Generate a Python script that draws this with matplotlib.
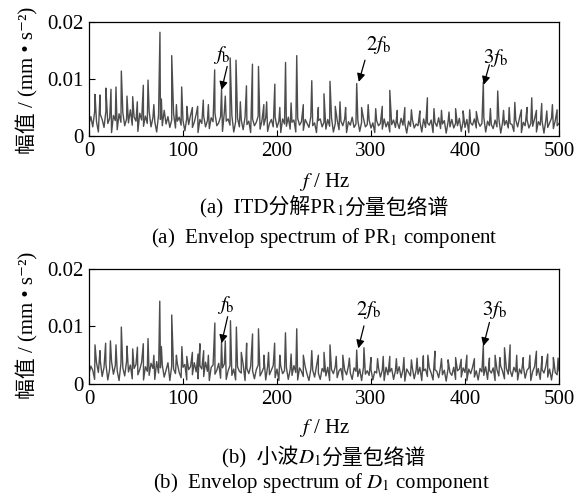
import numpy as np
import matplotlib
matplotlib.use("Agg")
import matplotlib.pyplot as plt

plt.rcParams['font.family'] = ['Liberation Serif', 'DejaVu Serif', 'Noto Sans CJK SC']
plt.rcParams['mathtext.fontset'] = 'stix'

#Frecuencias del fondo (cada 2 Hz) y amplitudes en 1e-3 mm/s^2
frec_fondo = np.arange(0, 501, 2)

fondo_a = [
    2.1, 3.4, 1.6, 4.2, 2.5, 0.7, 3.8, 2.9, 1.5, 4.4, 2.2, 3.1, 0.6, 3.6, 2.7, 1.1, 3.9, 2.4, 4.1, 1.8, 3.0, 2.3, 4.6, 1.9, 3.3,
    2.6, 0.8, 4.0, 2.8, 1.7, 3.5, 2.2, 4.3, 1.6, 3.2, 2.5, 0.7, 3.7, 2.9, 1.8, 4.5, 2.1, 3.4, 1.5, 2.8, 3.9, 1.4, 2.6, 3.3, 1.9,
    2.7, 0.9, 3.1, 2.0, 3.6, 1.5, 2.4, 3.8, 0.6, 2.9, 2.2, 3.5, 1.6, 2.7, 1.3, 3.2, 2.5, 4.0, 1.8, 2.3, 3.4, 0.8, 4.2, 2.6, 3.0,
    1.9, 3.6, 0.7, 2.5, 3.1, 1.6, 2.8, 1.1, 3.3, 2.0, 2.6, 0.6, 3.0, 1.8, 2.4, 3.5, 1.2, 2.7, 1.9, 3.2, 0.8, 2.2, 2.9, 1.6, 3.4,
    1.5, 2.6, 0.6, 3.0, 2.1, 1.7, 3.3, 1.2, 2.4, 2.8, 0.7, 3.1, 1.9, 2.5, 1.0, 2.9, 2.2, 1.5, 3.4, 1.8, 2.3, 0.6, 2.7, 3.0, 1.6,
    2.4, 1.2, 2.9, 1.7, 3.2, 0.7, 2.2, 2.8, 1.1, 2.6, 1.8, 3.0, 0.6, 2.5, 1.9, 3.3, 1.5, 2.1, 2.7, 0.8, 2.4, 3.1, 1.6, 2.0, 2.8,
    1.4, 2.3, 0.6, 2.7, 1.8, 2.2, 1.2, 3.0, 1.6, 2.5, 0.7, 2.0, 2.8, 1.5, 2.4, 1.3, 3.1, 1.9, 2.2, 0.5, 2.6, 1.7, 2.9, 1.4, 2.1,
    1.8, 2.6, 0.7, 3.0, 1.5, 2.3, 1.9, 2.8, 0.6, 2.4, 1.7, 3.2, 1.3, 2.1, 2.7, 0.5, 2.5, 1.6, 2.9, 1.4, 2.2, 1.8, 3.1, 0.8, 2.6,
    1.5, 2.9, 0.6, 2.3, 1.9, 3.0, 1.4, 2.5, 1.7, 2.2, 3.3, 0.7, 2.6, 1.8, 2.0, 1.3, 2.8, 1.6, 3.1, 0.5, 2.4, 1.9, 2.7, 1.4, 2.2,
    2.0, 0.8, 2.8, 1.6, 3.2, 0.6, 2.4, 1.8, 2.9, 1.4, 2.2, 1.7, 3.0, 0.7, 2.5, 1.9, 2.6, 0.5, 2.8, 1.5, 2.3, 3.1, 1.3, 2.7, 1.8,
    2.2]

fondo_b = [
    1.8, 3.1, 2.4, 0.8, 3.7, 2.0, 4.1, 1.3, 2.9, 3.5, 0.7, 2.6, 3.9, 1.7, 3.2, 2.3, 0.6, 3.6, 2.8, 1.4, 4.0, 2.1, 3.3, 0.9, 2.7,
    3.4, 1.6, 2.5, 3.8, 0.7, 3.0, 2.2, 1.5, 3.6, 2.7, 0.8, 3.9, 1.9, 2.8, 3.3, 1.2, 2.4, 3.7, 0.6, 3.1, 2.6, 1.8, 3.5, 2.0, 1.1,
    2.9, 3.4, 0.7, 2.5, 3.0, 1.6, 3.7, 2.1, 0.9, 3.2, 2.6, 1.3, 3.8, 2.2, 0.6, 2.9, 3.3, 1.7, 2.4, 3.6, 1.0, 2.8, 3.5, 0.8, 2.3,
    3.2, 1.5, 2.6, 0.7, 3.0, 2.2, 1.9, 3.4, 0.6, 2.7, 1.8, 3.1, 2.3, 0.9, 2.5, 3.3, 1.4, 2.1, 2.9, 0.7, 3.0, 1.6, 2.4, 3.2, 1.1,
    2.6, 0.6, 3.1, 1.8, 2.3, 2.9, 0.8, 2.5, 1.5, 3.2, 2.0, 0.7, 2.8, 2.2, 1.3, 3.0, 1.7, 0.6, 2.6, 2.4, 1.2, 3.1, 1.9, 0.8, 2.7,
    2.1, 1.4, 2.9, 0.6, 2.5, 1.8, 3.0, 1.1, 2.3, 2.7, 0.7, 2.4, 1.6, 3.1, 1.9, 0.8, 2.8, 2.2, 1.3, 2.6, 0.6, 2.9, 1.7, 2.3, 1.5,
    2.5, 0.7, 2.2, 1.9, 2.8, 1.2, 2.4, 0.6, 2.9, 1.6, 2.1, 2.7, 0.8, 2.3, 1.8, 3.0, 1.1, 2.5, 0.5, 2.6, 2.0, 1.4, 2.8, 0.9, 2.4,
    1.7, 2.9, 0.6, 2.3, 2.6, 1.3, 2.8, 1.9, 0.7, 2.5, 2.2, 1.1, 3.0, 1.6, 2.4, 0.5, 2.7, 2.0, 1.5, 2.9, 0.8, 2.3, 2.6, 1.2, 2.8,
    2.0, 0.6, 2.6, 1.8, 2.9, 1.2, 2.3, 0.7, 2.7, 2.1, 1.5, 3.0, 0.8, 2.4, 1.9, 2.8, 0.6, 2.5, 1.4, 3.1, 2.2, 0.9, 2.7, 1.7, 2.4,
    1.3, 2.9, 2.1, 0.7, 2.6, 1.8, 3.2, 1.0, 2.4, 2.8, 0.6, 2.2, 3.0, 1.5, 2.7, 0.8, 2.5, 1.9, 3.1, 1.2, 2.6, 0.7, 2.9, 2.0, 1.6,
    2.3]

#Picos del espectro (a)
picos_a_f = [6.4, 11.7, 18, 23.4, 28.7, 34.4, 40.4, 46.5, 51.4, 57.8, 62.8, 69, 75.5, 77, 88, 93, 98.6, 104, 110, 115.6,
             121.6, 127, 133.7, 141, 145, 150.2, 156.4, 161, 167.5, 173.9, 180.3, 186, 189, 197.7, 203, 209.1, 215, 221,
             228, 237, 244, 250, 256.4, 262, 267, 273, 284.8, 290, 297, 305, 312, 320, 328, 336, 343, 352, 360, 367, 375,
             383, 390, 398, 405, 412, 419.5, 427, 434.8, 441, 447, 453, 460, 466, 471, 476, 481.6, 487, 493, 498]
picos_a_amp = [7.3, 7.2, 8.4, 8.2, 8.6, 11.4, 7.0, 6.9, 6.0, 8.9, 9.8, 5.5, 18.2, 6.5, 14.1, 5.5, 8.6, 5.2, 5.0, 5.2,
               6.3, 5.5, 11.6, 8.2, 7.0, 13.7, 13.3, 6.0, 8.8, 12.6, 12.2, 5.5, 6.0, 9.1, 5.0, 12.9, 5.8, 14.1,
               5.5, 9.7, 5.0, 7.4, 9.6, 5.2, 6.0, 5.0, 9.2, 5.0, 5.5, 4.8, 5.2, 8.0, 4.5, 5.0, 4.6, 4.4, 6.7, 4.8, 4.5,
               4.2, 4.8, 4.4, 4.6, 4.3, 9.5, 4.8, 7.9, 4.5, 5.0, 5.9, 4.6, 5.0, 6.7, 4.5, 5.7, 4.4, 5.5, 4.6]

#Picos del espectro (b)
picos_b_f = [6.4, 11.7, 17.7, 22.8, 28.7, 34.4, 40.4, 46.5, 51.5, 57.8, 62.8, 69, 75.3, 77, 88, 93, 98.8, 104, 110, 116,
             118, 122, 127, 133.9, 141, 145, 150.5, 156.8, 162, 167.7, 174, 180.3, 186, 191, 197.5, 203, 209, 215, 221,
             228, 237, 244, 250, 256.4, 263, 270, 277, 284.8, 292.5, 300, 307, 313, 320, 327, 335, 343, 349, 355.7, 360.5,
             368, 375, 382, 390, 396, 402, 410, 419.5, 426, 432, 437, 442, 448, 455, 462, 469, 476, 482, 488, 494, 499]
picos_b_amp = [6.8, 5.8, 7.1, 7.5, 6.8, 9.9, 6.6, 6.1, 6.4, 7.0, 7.9, 5.0, 14.4, 6.5, 12.0, 5.0, 6.5, 4.8, 5.5, 5.2,
               7.0, 5.8, 5.0, 10.6, 7.3, 7.5, 11.0, 9.9, 5.5, 7.1, 8.7, 9.6, 5.0, 5.5, 7.1, 5.0, 8.9, 5.2, 9.6,
               5.0, 5.8, 5.0, 5.5, 6.8, 4.8, 5.0, 4.5, 5.9, 6.3, 4.6, 4.4, 4.8, 4.8, 4.4, 4.6, 4.2, 4.5, 4.9, 5.0,
               5.7, 4.4, 4.2, 4.6, 4.3, 5.0, 4.4, 6.8, 4.5, 5.0, 4.6, 6.3, 6.8, 5.0, 4.6, 5.0, 5.7, 4.8, 5.2, 4.6, 4.5]

#Etiquetas de las frecuencias de falla: (texto, x texto, y texto, x flecha ini, y flecha ini, x punta, y punta)
marcas_a = [(r'$f_\mathrm{b}$', 141.5, 0.0142, 147, 0.0122, 141, 0.0081),
            (r'$2f_\mathrm{b}$', 308, 0.0160, 293.6, 0.0133, 287, 0.0095),
            (r'$3f_\mathrm{b}$', 433, 0.0137, 425.9, 0.0125, 420, 0.0090)]
marcas_b = [(r'$f_\mathrm{b}$', 145.7, 0.0137, 147.5, 0.0117, 141, 0.0071),
            (r'$2f_\mathrm{b}$', 297.5, 0.0129, 292.5, 0.0101, 286.5, 0.0062),
            (r'$3f_\mathrm{b}$', 431, 0.0129, 426, 0.0107, 419.5, 0.0066)]

ticks_x = [0, 100, 200, 300, 400, 500]
ticks_y = [0, 0.01, 0.02]
etiquetas_y = ['0', '0.01', '0.02']

#Textos de los rotulos (el chino va aparte del mathtext)
etiqueta_y = '幅值 / (mm • s⁻²)'
titulo_a_cn = ['(a)  ITD分解PR', r'${}_\mathrm{1}$', '分量包络谱']
titulo_b_cn = ['(b)  小波', r'$D_\mathrm{1}$', '分量包络谱']
titulo_a_en = r'(a)  Envelop spectrum of PR$_\mathrm{1}$ component'
titulo_b_en = r'(b)  Envelop spectrum of $D_\mathrm{1}$ component'


def armar_serie(fondo, picos_f, picos_amp):
    #Junta el fondo con los picos y ordena por frecuencia
    f = np.concatenate([frec_fondo, np.array(picos_f, dtype=float)])
    a = np.concatenate([np.array(fondo), np.array(picos_amp)]) * 1e-3
    orden = np.argsort(f)
    return f[orden], a[orden]


def dibujar(ax, fondo, picos_f, picos_amp, marcas):
    f, a = armar_serie(fondo, picos_f, picos_amp)
    ax.plot(f, a, color='#4d4d4d', lw=1.0)
    ax.set_xlim(0, 500)
    ax.set_ylim(0, 0.02)
    ax.set_xticks(ticks_x)
    ax.set_yticks(ticks_y)
    ax.set_yticklabels(etiquetas_y)
    ax.tick_params(direction='in', length=4, width=0.8, labelsize=15, pad=4)
    for sp in ax.spines.values():
        sp.set_linewidth(0.9)
    for texto, xt, yt, x0, y0, x1, y1 in marcas:
        ax.text(xt, yt, texto, fontsize=15, ha='center', va='center')
        ax.annotate('', xy=(x1, y1), xytext=(x0, y0),
                    arrowprops=dict(arrowstyle='-|>', color='black', lw=0.9,
                                    mutation_scale=12, shrinkA=0, shrinkB=0))


def texto_compuesto(fig, xc, y, partes, fontsize=15):
    #Pone varios trozos seguidos en la misma linea base y centra el conjunto
    renderer = fig.canvas.get_renderer()
    ancho_fig = fig.bbox.width
    textos = []
    x = 0.0
    for p in partes:
        t = fig.text(x, y, p, ha='left', va='baseline', fontsize=fontsize)
        bb = t.get_window_extent(renderer)
        textos.append((t, x))
        x += bb.width / ancho_fig
    desde = xc - x / 2
    for t, xi in textos:
        t.set_x(desde + xi)


fig = plt.figure(figsize=(5.87, 4.97), dpi=100)
ax1 = fig.add_axes([0.1516, 0.7264, 0.8007, 0.2293])
ax2 = fig.add_axes([0.1516, 0.2274, 0.8007, 0.2314])

dibujar(ax1, fondo_a, picos_a_f, picos_a_amp, marcas_a)
dibujar(ax2, fondo_b, picos_b_f, picos_b_amp, marcas_b)

fig.text(0.047, 0.839, etiqueta_y, rotation=90, ha='center', va='center', fontsize=15)
fig.text(0.047, 0.346, etiqueta_y, rotation=90, ha='center', va='center', fontsize=15)

fig.text(0.552, 0.634, '$f$ / Hz', ha='center', va='center', fontsize=15)
fig.canvas.draw()
texto_compuesto(fig, 0.552, 0.570, titulo_a_cn)
fig.text(0.552, 0.521, titulo_a_en, ha='center', va='center', fontsize=15)

fig.text(0.552, 0.139, '$f$ / Hz', ha='center', va='center', fontsize=15)
texto_compuesto(fig, 0.551, 0.067, titulo_b_cn)
fig.text(0.547, 0.028, titulo_b_en, ha='center', va='center', fontsize=15)

fig.savefig('out.png', dpi=100)
